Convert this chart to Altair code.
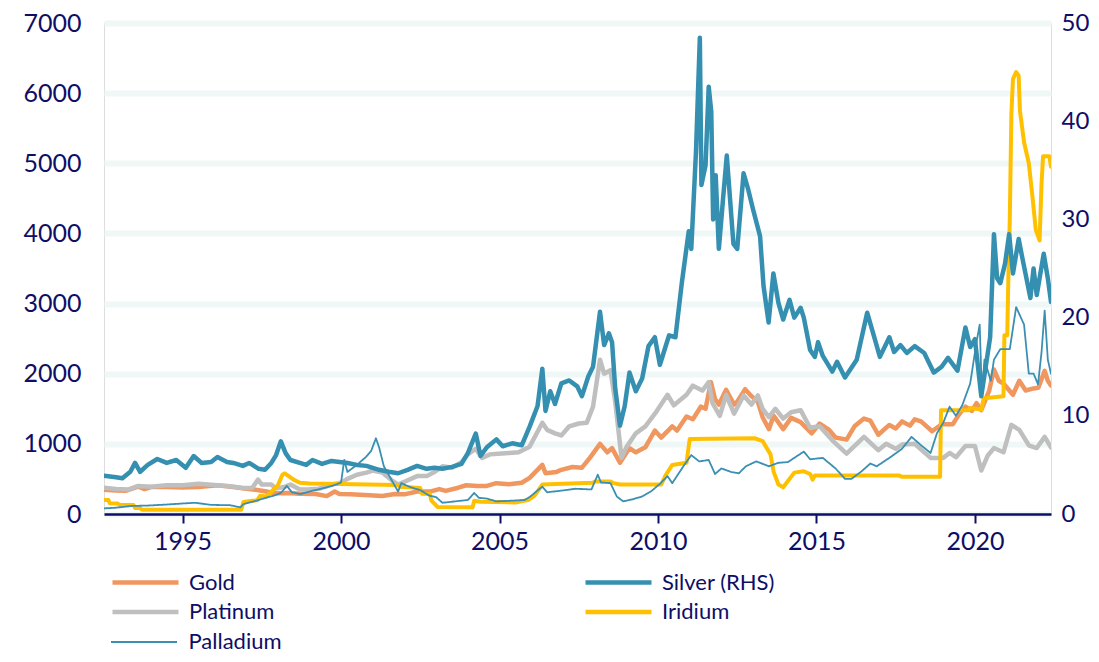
import altair as alt
import pandas as pd

# ---------------- data ----------------
gold_years = [1992.52, 1992.9, 1993.2, 1993.6, 1993.8, 1994.0, 1994.5, 1995.0, 1995.5, 1996.1, 1996.6, 1996.95,
              1997.3, 1997.6, 1997.9, 1998.3, 1998.7, 1999.2, 1999.55, 1999.8, 1999.95, 2000.3, 2000.6, 2000.9,
              2001.3, 2001.7, 2002.0, 2002.4, 2002.8, 2003.1, 2003.3, 2003.7, 2003.95, 2004.3, 2004.6, 2004.9,
              2005.3, 2005.7, 2005.95, 2006.35, 2006.45, 2006.8, 2006.95, 2007.3, 2007.6, 2007.85, 2008.17,
              2008.4, 2008.55, 2008.8, 2009.1, 2009.3, 2009.6, 2009.9, 2010.1, 2010.45, 2010.6, 2010.9, 2011.1,
              2011.35, 2011.5, 2011.67, 2011.8, 2011.92, 2012.15, 2012.4, 2012.5, 2012.75, 2012.95, 2013.15,
              2013.3, 2013.5, 2013.65, 2013.95, 2014.2, 2014.5, 2014.85, 2015.1, 2015.4, 2015.6, 2015.95, 2016.2,
              2016.5, 2016.7, 2016.95, 2017.3, 2017.5, 2017.7, 2017.95, 2018.1, 2018.3, 2018.65, 2018.95, 2019.3,
              2019.5, 2019.7, 2019.9, 2020.05, 2020.2, 2020.45, 2020.6, 2020.75, 2020.9, 2021.2, 2021.4, 2021.6,
              2021.85, 2022.0, 2022.2, 2022.3, 2022.4]
gold_values = [345, 335, 330, 390, 355, 385, 385, 378, 385, 410, 385, 365,
               345, 325, 295, 300, 290, 285, 255, 320, 285, 280, 275, 268,
               258, 285, 280, 320, 320, 355, 330, 375, 410, 400, 400, 440,
               425, 445, 515, 700, 580, 600, 630, 670, 660, 800, 1000,
               880, 940, 730, 940, 880, 950, 1190, 1090, 1250, 1190, 1390, 1350,
               1530, 1500, 1880, 1640, 1560, 1770, 1560, 1600, 1780, 1680, 1600,
               1380, 1210, 1400, 1210, 1370, 1310, 1150, 1290, 1200, 1090, 1060, 1250,
               1360, 1330, 1130, 1270, 1220, 1320, 1260, 1350, 1320, 1180, 1280, 1280,
               1420, 1530, 1470, 1580, 1480, 1760, 2060, 1900, 1860, 1700, 1900, 1760,
               1790, 1800, 2040, 1900, 1830]

platinum_years = [1992.52, 1992.9, 1993.3, 1993.6, 1994.0, 1994.5, 1995.0, 1995.5, 1996.0, 1996.5, 1996.9,
                  1997.2, 1997.38, 1997.5, 1997.8, 1997.95, 1998.2, 1998.4, 1998.7, 1998.95, 1999.3, 1999.7,
                  1999.95, 2000.2, 2000.5, 2000.8, 2001.0, 2001.3, 2001.6, 2001.8, 2002.0, 2002.4, 2002.7,
                  2002.95, 2003.2, 2003.5, 2003.8, 2004.0, 2004.25, 2004.45, 2004.7, 2004.95, 2005.3, 2005.6,
                  2005.95, 2006.35, 2006.5, 2006.75, 2006.95, 2007.2, 2007.5, 2007.75, 2007.95, 2008.17, 2008.3,
                  2008.5, 2008.65, 2008.85, 2009.0, 2009.3, 2009.6, 2009.95, 2010.3, 2010.5, 2010.9, 2011.1,
                  2011.4, 2011.6, 2011.72, 2011.95, 2012.15, 2012.4, 2012.7, 2012.95, 2013.15, 2013.3, 2013.5,
                  2013.7, 2013.95, 2014.2, 2014.5, 2014.8, 2015.1, 2015.5, 2015.95, 2016.5, 2016.95, 2017.2,
                  2017.5, 2017.7, 2018.1, 2018.6, 2019.0, 2019.2, 2019.4, 2019.7, 2020.0, 2020.2, 2020.4,
                  2020.6, 2020.9, 2021.15, 2021.4, 2021.7, 2021.95, 2022.2, 2022.4]
platinum_values = [375, 355, 350, 400, 390, 410, 410, 430, 415, 395, 370,
                   375, 490, 420, 420, 365, 385, 420, 350, 350, 360, 420,
                   440, 500, 560, 590, 620, 590, 480, 420, 460, 540, 540,
                   600, 680, 660, 740, 850, 930, 800, 850, 860, 870, 880,
                   960, 1300, 1200, 1150, 1120, 1250, 1290, 1300, 1530, 2200, 2000,
                   2050, 1600, 800, 950, 1150, 1250, 1460, 1700, 1550, 1700, 1830,
                   1760, 1880, 1580, 1400, 1700, 1430, 1690, 1560, 1690, 1500, 1380,
                   1500, 1360, 1450, 1480, 1230, 1250, 1050, 860, 1100, 910, 1000,
                   930, 990, 1000, 800, 800, 870, 810, 970, 970, 620, 830,
                   940, 880, 1270, 1200, 980, 940, 1100, 950]

palladium_years = [1992.52, 1992.9, 1993.4, 1993.9, 1994.5, 1995.0, 1995.4, 1995.9, 1996.5, 1996.82, 1996.92,
                   1997.33, 1997.66, 1997.87, 1998.1, 1998.29, 1998.45, 1998.71, 1999.13, 1999.55, 1999.85,
                   2000.0, 2000.1, 2000.2, 2000.5, 2000.8, 2000.95, 2001.1, 2001.2, 2001.35, 2001.5, 2001.7,
                   2001.8, 2001.9, 2002.2, 2002.5, 2002.8, 2003.0, 2003.2, 2003.6, 2004.0, 2004.2, 2004.35,
                   2004.6, 2004.9, 2005.4, 2005.8, 2005.97, 2006.35, 2006.5, 2006.9, 2007.4, 2007.9, 2008.1,
                   2008.2, 2008.5, 2008.7, 2008.9, 2009.2, 2009.5, 2009.8, 2010.06, 2010.3, 2010.45, 2010.8,
                   2011.05, 2011.3, 2011.6, 2011.8, 2012.0, 2012.3, 2012.55, 2012.77, 2013.1, 2013.5, 2013.8,
                   2014.1, 2014.6, 2014.8, 2015.2, 2015.6, 2015.9, 2016.1, 2016.4, 2016.7, 2016.9, 2017.3,
                   2017.7, 2018.0, 2018.3, 2018.6, 2018.8, 2019.0, 2019.2, 2019.4, 2019.6, 2019.85, 2020.05,
                   2020.15, 2020.22, 2020.3, 2020.5, 2020.6, 2020.8, 2020.95, 2021.1, 2021.3, 2021.4, 2021.55,
                   2021.7, 2021.85, 2021.99, 2022.1, 2022.2, 2022.3, 2022.4]
palladium_values = [80, 90, 115, 120, 135, 150, 160, 130, 125, 95, 140,
                    190, 235, 260, 300, 400, 310, 285, 335, 380, 420,
                    450, 770, 600, 700, 820, 900, 1080, 950, 680, 560, 400,
                    320, 440, 380, 340, 260, 240, 160, 180, 200, 300, 230,
                    220, 180, 190, 200, 250, 390, 310, 330, 360, 350, 560,
                    450, 440, 250, 180, 210, 250, 330, 430, 540, 440, 680,
                    840, 750, 770, 570, 650, 600, 580, 680, 750, 680, 730,
                    740, 890, 780, 800, 650, 500, 500, 600, 720, 680, 800,
                    930, 1100, 980, 870, 1150, 1300, 1530, 1400, 1550, 1860, 2450,
                    2700, 1700, 2200, 1900, 2200, 2350, 2350, 2350, 2950, 2850, 2700,
                    2000, 2000, 1850, 2300, 2900, 2200, 2000]

iridium_years = [1992.52, 1992.66, 1992.7, 1992.95, 1993.0, 1993.45, 1993.5, 1993.66, 1993.72, 1996.85, 1996.92,
                 1997.2, 1997.35, 1997.45, 1997.65, 1997.84, 1998.0, 1998.15, 1998.22, 1998.35, 1998.5, 1998.7,
                 1999.0, 2001.8, 2001.85, 2002.5, 2002.55, 2002.8, 2002.85, 2003.05, 2004.15, 2004.2, 2004.4,
                 2005.5, 2005.9, 2006.1, 2006.35, 2007.0, 2007.95, 2008.0, 2008.5, 2008.6, 2008.8, 2010.1,
                 2010.25, 2010.45, 2010.9, 2011.0, 2013.05, 2013.3, 2013.55, 2013.65, 2013.8, 2013.95, 2014.1,
                 2014.3, 2014.6, 2014.8, 2014.88, 2014.95, 2017.6, 2017.7, 2018.9, 2018.93, 2019.8, 2019.85,
                 2020.2, 2020.28, 2020.9, 2020.93, 2021.02, 2021.06, 2021.1, 2021.15, 2021.2, 2021.3, 2021.38,
                 2021.42, 2021.55, 2021.7, 2021.82, 2021.92, 2022.04, 2022.1, 2022.15, 2022.35, 2022.4]
iridium_values = [200, 200, 155, 150, 133, 130, 86, 85, 62, 62, 170,
                  190, 195, 260, 250, 335, 405, 560, 580, 540, 490, 445,
                  435, 415, 390, 370, 290, 285, 190, 100, 95, 190, 175,
                  165, 200, 260, 420, 430, 445, 465, 465, 440, 420, 420,
                  560, 700, 730, 1070, 1080, 1040, 850, 600, 420, 380, 470,
                  590, 610, 570, 490, 550, 550, 530, 530, 1480, 1480, 1510,
                  1490, 1650, 1680, 2550, 2550, 3500, 4200, 5700, 6200, 6300, 6250,
                  5750, 5300, 5000, 4500, 4050, 3900, 4700, 5100, 5100, 4950]

silver_years = [1992.52, 1992.9, 1993.1, 1993.35, 1993.5, 1993.66, 1993.9, 1994.2, 1994.5, 1994.8, 1995.1,
                1995.35, 1995.6, 1995.9, 1996.1, 1996.4, 1996.6, 1996.9, 1997.1, 1997.4, 1997.6, 1997.8,
                1997.95, 1998.1, 1998.25, 1998.4, 1998.7, 1998.9, 1999.1, 1999.4, 1999.7, 1999.95, 2000.2,
                2000.5, 2000.8, 2001.2, 2001.5, 2001.8, 2002.1, 2002.4, 2002.7, 2002.95, 2003.2, 2003.5,
                2003.8, 2004.0, 2004.25, 2004.4, 2004.6, 2004.9, 2005.1, 2005.4, 2005.7, 2005.95, 2006.2,
                2006.35, 2006.45, 2006.6, 2006.75, 2006.95, 2007.2, 2007.45, 2007.6, 2007.8, 2007.95, 2008.17,
                2008.3, 2008.45, 2008.55, 2008.65, 2008.8, 2008.95, 2009.1, 2009.3, 2009.5, 2009.7, 2009.9,
                2010.06, 2010.35, 2010.55, 2010.75, 2010.97, 2011.05, 2011.2, 2011.32, 2011.37, 2011.5, 2011.6,
                2011.68, 2011.74, 2011.82, 2011.92, 2012.05, 2012.17, 2012.38, 2012.5, 2012.7, 2012.85, 2013.0,
                2013.22, 2013.33, 2013.49, 2013.64, 2013.8, 2013.95, 2014.15, 2014.3, 2014.5, 2014.6, 2014.8,
                2014.95, 2015.05, 2015.2, 2015.5, 2015.65, 2015.9, 2016.27, 2016.6, 2016.85, 2017.0, 2017.3,
                2017.45, 2017.65, 2017.85, 2018.1, 2018.4, 2018.7, 2018.95, 2019.15, 2019.45, 2019.7, 2019.85,
                2020.0, 2020.2, 2020.35, 2020.48, 2020.6, 2020.7, 2020.8, 2020.95, 2021.08, 2021.2, 2021.38,
                2021.5, 2021.75, 2021.85, 2021.95, 2022.17, 2022.3, 2022.4]
silver_values = [3.9, 3.75, 3.65, 4.3, 5.2, 4.3, 5.0, 5.6, 5.2, 5.5, 4.7,
                 5.9, 5.2, 5.3, 5.8, 5.3, 5.2, 4.9, 5.2, 4.6, 4.5, 5.2,
                 6.0, 7.4, 6.2, 5.5, 5.2, 5.0, 5.5, 5.1, 5.4, 5.3, 5.2,
                 5.0, 4.9, 4.5, 4.3, 4.15, 4.5, 4.9, 4.6, 4.7, 4.6, 4.8,
                 5.1, 6.2, 8.2, 5.9, 6.8, 7.6, 6.9, 7.2, 7.0, 8.9, 11.0,
                 14.8, 10.5, 12.5, 11.2, 13.3, 13.6, 13.0, 12.0, 14.0, 15.0, 20.6,
                 17.2, 18.4, 17.5, 12.8, 9.0, 11.0, 14.4, 12.5, 13.8, 17.1, 18.0,
                 15.2, 18.2, 18.0, 23.5, 28.8, 27.0, 37.0, 48.5, 33.5, 35.5, 43.5,
                 41.0, 30.0, 34.5, 27.0, 32.0, 36.5, 27.5, 27.0, 34.7, 33.0, 31.0,
                 28.3, 23.2, 19.5, 24.5, 21.5, 19.8, 21.8, 20.0, 21.0, 20.0, 16.7,
                 16.0, 17.5, 16.1, 14.5, 15.5, 13.9, 15.7, 20.5, 17.7, 16.0, 18.0,
                 16.5, 17.2, 16.4, 17.1, 16.4, 14.4, 15.0, 15.9, 14.6, 19.0, 17.0,
                 17.8, 12.0, 15.2, 18.0, 28.5, 24.0, 23.5, 25.5, 28.5, 24.5, 28.0,
                 26.0, 22.0, 25.0, 22.3, 26.5, 24.0, 21.6]

main_names = ["Gold", "Platinum"]
thin_names = ["Palladium"]
right_names = ["Silver (RHS)", "Iridium"]
left_ticks = [0, 1000, 2000, 3000, 4000, 5000, 6000, 7000]
right_ticks = [0, 10, 20, 30, 40, 50]
year_ticks = [1995, 2000, 2005, 2010, 2015, 2020]

# ---------------- styling ----------------
NAVY = "#0E0E66"
FONT = "Lato"
C_GOLD = "#F0965F"
C_PLAT = "#BFBFBF"
C_PALL = "#3A8FB2"
C_SILV = "#358FB0"
C_IRID = "#FFC000"

series = [
    ("Gold", gold_years, gold_values),
    ("Platinum", platinum_years, platinum_values),
    ("Palladium", palladium_years, palladium_values),
    ("Iridium", iridium_years, iridium_values),
    ("Silver (RHS)", silver_years, silver_values),
]
rows = []
for name, yrs, vals in series:
    for yv, vv in zip(yrs, vals):
        rows.append({"metal": name, "year": yv, "price": vv})
df = pd.DataFrame(rows)

x_enc = alt.X(
    "year:Q",
    scale=alt.Scale(domain=[1992.52, 2022.40], nice=False, zero=False),
    axis=alt.Axis(values=year_ticks, format="d", title=None, grid=False,
                  domainColor=NAVY, domainWidth=2.5, tickColor=NAVY, tickWidth=2,
                  tickSize=9, labelPadding=6, labelFontSize=25, labelFont=FONT,
                  labelColor=NAVY),
)

left_axis = alt.Axis(values=left_ticks, format="d", title=None, domain=False, ticks=False,
                     labelPadding=23, labelFontSize=25, labelFont=FONT, labelColor=NAVY,
                     grid=True, gridColor="#EFF8F6", gridWidth=6)
y_left = alt.Y("price:Q", scale=alt.Scale(domain=[0, 7000], nice=False), axis=left_axis)

legend_common = dict(orient="none", title=None, direction="vertical",
                     symbolType="M0,0H6", symbolSize=484, labelFontSize=22,
                     labelFont=FONT, labelColor=NAVY, rowPadding=4.5, padding=0)

main_legend = alt.Legend(legendX=-5, legendY=546, symbolStrokeWidth=4.5, labelOffset=63,
                         **legend_common)
thin_legend = alt.Legend(legendX=-5, legendY=607, symbolStrokeColor=C_PALL,
                         symbolStrokeWidth=1.8, labelOffset=65.5, **legend_common)
right_legend = alt.Legend(legendX=468, legendY=546, symbolStrokeWidth=4.5, labelOffset=63,
                          **legend_common)

main_lines = alt.Chart(df).transform_filter(
    alt.FieldOneOfPredicate(field="metal", oneOf=main_names)
).mark_line(clip=True, strokeJoin="round", strokeCap="round", strokeWidth=4.5).encode(
    x=x_enc,
    y=y_left,
    color=alt.Color("metal:N", scale=alt.Scale(domain=main_names, range=[C_GOLD, C_PLAT]),
                    legend=main_legend),
)

palladium_line = alt.Chart(df).transform_filter(
    alt.FieldOneOfPredicate(field="metal", oneOf=thin_names)
).mark_line(clip=True, strokeJoin="round", strokeCap="round", color=C_PALL, strokeWidth=1.8).encode(
    x=x_enc,
    y=y_left,
    strokeDash=alt.StrokeDash("metal:N", scale=alt.Scale(domain=thin_names, range=[[1, 0]]),
                              legend=thin_legend),
)

stroke_enc = alt.Stroke("metal:N", scale=alt.Scale(domain=right_names, range=[C_SILV, C_IRID]),
                        legend=right_legend)

iridium_line = alt.Chart(df).transform_filter(
    alt.datum.metal == "Iridium"
).mark_line(clip=True, strokeJoin="round", strokeWidth=4, strokeCap="round").encode(
    x=x_enc,
    y=y_left,
    stroke=stroke_enc,
)

silver_line = alt.Chart(df).transform_filter(
    alt.datum.metal == "Silver (RHS)"
).mark_line(clip=True, strokeJoin="round", strokeWidth=4.5, strokeCap="round").encode(
    x=x_enc,
    y=alt.Y("price:Q", scale=alt.Scale(domain=[0, 50], nice=False),
            axis=alt.Axis(orient="right", values=right_ticks, format="d", title=None,
                          domain=False, ticks=False, grid=False, labelPadding=10,
                          labelFontSize=24, labelFont=FONT, labelColor=NAVY)),
    stroke=stroke_enc,
)

chart = alt.layer(
    alt.layer(main_lines, iridium_line, palladium_line),
    silver_line,
).resolve_scale(
    y="independent"
).properties(
    width=947,
    height=491,
    padding={"left": 96, "top": 15, "right": 40, "bottom": 140},
    autosize=alt.AutoSizeParams(type="none"),
    title=alt.Title("US$ per troy ounce (nominal)", anchor="start", frame="group", orient="top",
                    baseline="alphabetic", offset=4, dx=7, fontSize=25, font=FONT,
                    fontWeight="normal", color=NAVY),
).configure_view(
    stroke=None
).configure(
    background="white"
)

chart.save("out.html", embed_options={"renderer": "svg", "actions": False})
